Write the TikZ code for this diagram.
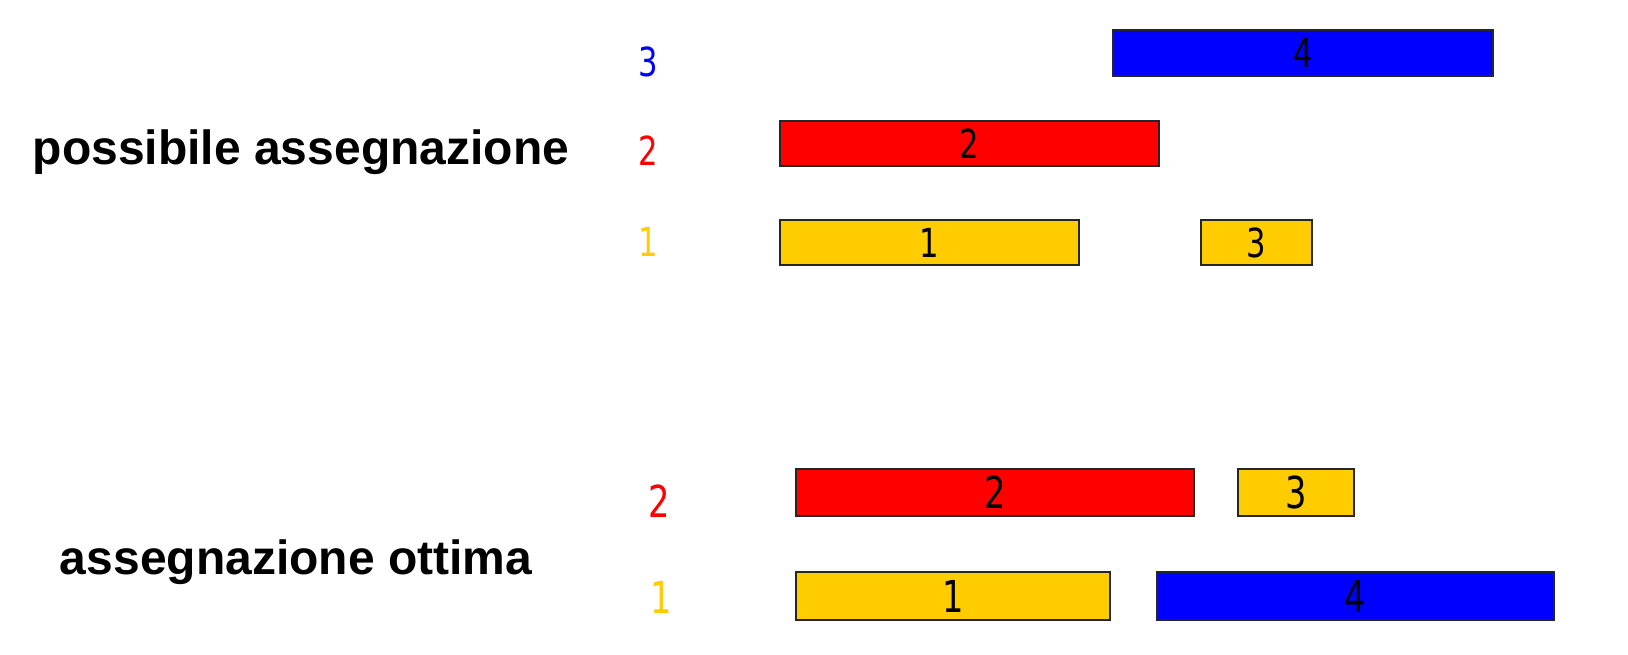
\documentclass[tikz,border=0pt]{standalone}
\usepackage{fontspec}
\setmainfont{Liberation Sans}
\newfontfamily\cond[FakeStretch=0.85]{DejaVu Sans Condensed}
\definecolor{barblue}{RGB}{0,0,255}
\definecolor{barred}{RGB}{255,0,0}
\definecolor{baryel}{RGB}{255,204,0}
\begin{document}
\begin{tikzpicture}[x=1pt,y=-1pt,
  bar/.style={draw=black!85, line width=1.3pt, inner sep=0pt, anchor=center},
  numtop/.style={font=\cond\fontsize{40}{42}\selectfont},
  numbot/.style={font=\cond\fontsize{44}{46}\selectfont},
  title/.style={font=\bfseries\fontsize{48}{50}\selectfont, anchor=base, inner sep=0pt}]
\useasboundingbox (0,0) rectangle (1628,654);
% titles
\node[title] (t1) at (301,164) {possibile assegnazione};
\node[title] (t2) at (296,574) {assegnazione ottima};
% top section labels
\node[numtop, text=barblue] (l3) at (648,62) {3};
\node[numtop, text=barred] (l2) at (648,151) {2};
\node[numtop, text=baryel] (l1) at (648,242) {1};
% top bars
\node[bar, numtop, fill=barblue, minimum width=380pt, minimum height=46pt] (a4) at (1303,53) {4};
\node[bar, numtop, fill=barred, minimum width=379pt, minimum height=45pt] (a2) at (969.5,143.5) {2};
\node[bar, numtop, fill=baryel, minimum width=299pt, minimum height=45pt] (a1) at (929.5,242.5) {1};
\node[bar, numtop, fill=baryel, minimum width=111pt, minimum height=45pt] (a3) at (1256.5,242.5) {3};
% bottom labels
\node[numbot, text=barred] (m2) at (659,501) {2};
\node[numbot, text=baryel] (m1) at (661,597) {1};
% bottom bars
\node[bar, numbot, fill=barred, minimum width=398pt, minimum height=47pt] (b2) at (995,492.5) {2};
\node[bar, numbot, fill=baryel, minimum width=116pt, minimum height=47pt] (b3) at (1296,492.5) {3};
\node[bar, numbot, fill=baryel, minimum width=314pt, minimum height=48pt] (b1) at (953,596) {1};
\node[bar, numbot, fill=barblue, minimum width=397pt, minimum height=48pt] (b4) at (1355.5,596) {4};
\end{tikzpicture}
\end{document}
